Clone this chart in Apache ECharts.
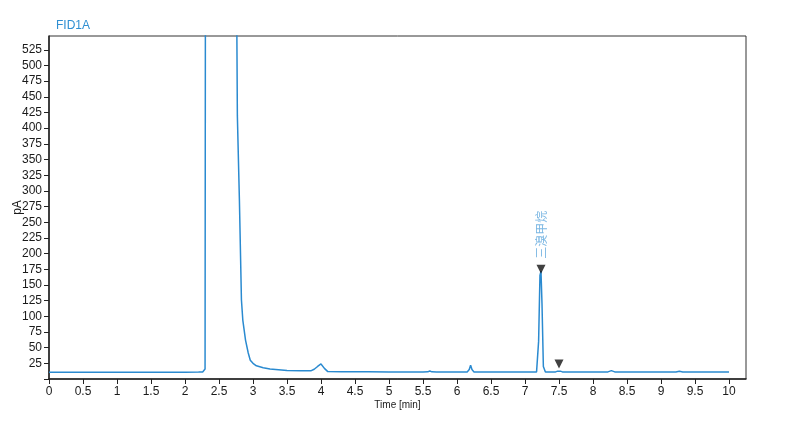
<!DOCTYPE html>
<html><head><meta charset="utf-8">
<script src="https://cdn.jsdelivr.net/npm/echarts@6/dist/echarts.min.js"></script>
<style>html,body{margin:0;padding:0;background:#fff}#c{width:800px;height:422px}</style>
</head><body><div id="c"></div>
<script>
// Chromatogram signal: time (min) and detector response (pA)
var times = [0, 0.5, 1, 1.5, 2, 2.2, 2.26, 2.285, 2.295, 2.3, 2.76, 2.77, 2.8, 2.83, 2.85, 2.89, 2.93, 2.96, 3.0, 3.05, 3.15, 3.25, 3.5, 3.7, 3.85, 3.9, 3.95, 4.0, 4.05, 4.1, 4.3, 4.7, 5.0, 5.5, 5.57, 5.6, 5.63, 5.7, 6.0, 6.15, 6.18, 6.2, 6.22, 6.25, 6.5, 7.0, 7.17, 7.2, 7.22, 7.235, 7.25, 7.27, 7.3, 7.45, 7.48, 7.5, 7.52, 7.55, 8.0, 8.22, 8.27, 8.32, 8.8, 9.22, 9.27, 9.32, 9.6, 10.0];
var signal = [10.7, 10.7, 10.8, 10.8, 10.9, 11.0, 11.3, 12.5, 16, 600, 600, 420, 286, 126, 94, 62, 41.5, 30, 25, 21, 18, 16, 13.6, 13.2, 13.0, 15.5, 20, 24, 17, 11.8, 11.5, 11.4, 11.2, 11.2, 11.4, 12.8, 11.4, 11.2, 11.2, 11.3, 15, 22, 15, 11.3, 11.2, 11.2, 11.3, 60, 165, 172, 120, 20, 11.3, 11.3, 12.5, 13.5, 12.5, 11.3, 11.2, 11.3, 13.3, 11.3, 11.2, 11.3, 12.5, 11.3, 11.2, 11.2];
// Integrated peak markers (apex time, marker height)
var peakTimes = [7.235, 7.5];
var peakMarks = [175, 24];
var peakNames = ['三溴甲烷', ''];
var yTicks = [25, 50, 75, 100, 125, 150, 175, 200, 225, 250, 275, 300, 325, 350, 375, 400, 425, 450, 475, 500, 525];

var lineData = times.map(function (t, i) { return [t, signal[i]]; });
var markData = peakTimes.map(function (t, i) { return [t, peakMarks[i]]; });

var chart = echarts.init(document.getElementById('c'), null, {renderer: 'canvas'});
var axisText = {color: '#1a1a1a', fontFamily: 'Liberation Sans, Arial, sans-serif', fontSize: 12};
chart.setOption({
  animation: false,
  backgroundColor: '#fff',
  title: {
    text: 'FID1A', left: 51, top: 15,
    textStyle: {color: '#2f8fd2', fontSize: 12, fontWeight: 'normal', fontFamily: 'Liberation Sans, Arial, sans-serif'}
  },
  grid: {left: 49, right: 54, top: 36, bottom: 43, containLabel: false, outerBoundsMode: 'none',
    show: true, borderColor: '#333', borderWidth: 1, backgroundColor: 'transparent'},
  xAxis: {
    type: 'value', min: 0, max: 10.25, interval: 0.5,
    name: 'Time [min]', nameLocation: 'middle', nameGap: 21, nameMoveOverlap: false,
    nameTextStyle: {color: '#1a1a1a', fontSize: 10, fontFamily: 'Liberation Sans, Arial, sans-serif'},
    axisLine: {show: true, onZero: false, lineStyle: {color: '#222', width: 1.5}},
    axisTick: {show: true, length: 5, lineStyle: {color: '#222'}},
    axisLabel: Object.assign({margin: 7, showMaxLabel: false,
      formatter: function (v) { return v > 10 ? '' : String(v); }}, axisText),
    splitLine: {show: false}
  },
  yAxis: {
    type: 'value', min: 0, max: 547, interval: 25,
    name: 'pA', nameLocation: 'middle', nameGap: 25, nameRotate: 90, nameMoveOverlap: false,
    nameTextStyle: {color: '#1a1a1a', fontSize: 12, fontFamily: 'Liberation Sans, Arial, sans-serif'},
    axisLine: {show: true, onZero: false, lineStyle: {color: '#222', width: 1.5}},
    axisTick: {show: true, length: 5, lineStyle: {color: '#222'}},
    axisLabel: Object.assign({margin: 7, showMaxLabel: false,
      formatter: function (v) { return yTicks.indexOf(v) >= 0 ? String(v) : ''; }}, axisText),
    splitLine: {show: false}
  },
  series: [{
    type: 'line', data: lineData, showSymbol: false, clip: true,
    lineStyle: {color: '#2a8ad0', width: 1.5}, z: 2
  }, {
    type: 'scatter', data: markData, symbol: 'triangle', symbolRotate: 180, symbolSize: 9,
    itemStyle: {color: '#111'}, z: 3,
    label: {
      show: true, position: 'top', distance: 6, rotate: 90, align: 'left', verticalAlign: 'middle',
      color: '#5aa5dc', fontSize: 12, fontFamily: 'Noto Sans CJK SC',
      formatter: function (p) { return peakNames[p.dataIndex]; }
    }
  }]
});
</script></body></html>
